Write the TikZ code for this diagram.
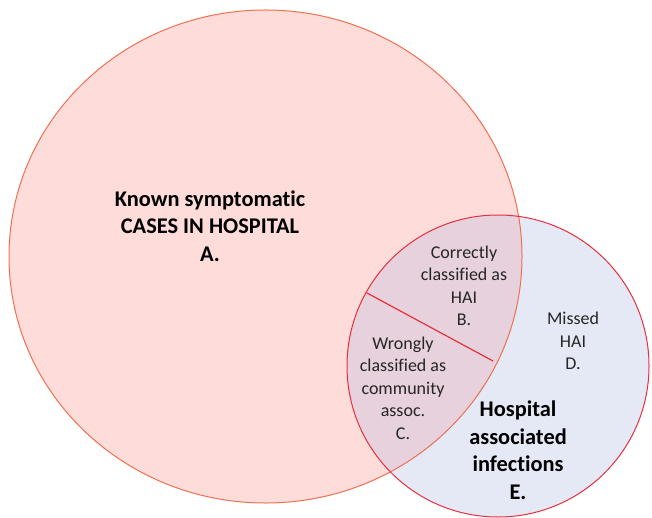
\documentclass[tikz,border=0pt]{standalone}
\usepackage{fontspec}
\setmainfont[Ligatures={NoCommon}]{Carlito}
\definecolor{bigfill}{HTML}{FDDCDA}
\definecolor{bigline}{HTML}{F0704F}
\definecolor{smallfill}{HTML}{E4E9F5}
\definecolor{smallline}{HTML}{E8303C}
\definecolor{overfill}{HTML}{E6D1DC}
\tikzset{
  boldlabel/.style={align=center, inner sep=0pt, font=\fontsize{22.4}{27.5}\selectfont\bfseries, text=black},
  plainlabel/.style={align=center, inner sep=0pt, font=\fontsize{18}{22.5}\selectfont, text=black!85},
  divider/.style={draw=smallline, line width=1.2pt}
}
\begin{document}
\begin{tikzpicture}[x=1pt,y=-1pt]
\useasboundingbox (0,0) rectangle (652,518);
% fills
\fill[bigfill] (265.5,256.5) ellipse [x radius=256.5, y radius=246.5];
\fill[smallfill] (498,366) circle [radius=151];
\begin{scope}
  \clip (265.5,256.5) ellipse [x radius=256.5, y radius=246.5];
  \fill[overfill] (498,366) circle [radius=151];
\end{scope}
% outlines
\draw[bigline, line width=1pt] (265.5,256.5) ellipse [x radius=256.5, y radius=246.5];
\draw[smallline, line width=1pt] (498,366) circle [radius=151];
% divider
\coordinate (dstart) at (367,293);
\coordinate (dend) at (493,361);
\draw[divider] (dstart) -- (dend);
% labels
\node[boldlabel] (A) at (210,226) {Known symptomatic\\CASES IN HOSPITAL\\A.};
\node[plainlabel] (B) at (464,286) {Correctly\\classified as\\HAI\\B.};
\node[plainlabel] (C) at (403,388) {Wrongly\\classified as\\community\\assoc.\\C.};
\node[plainlabel] (D) at (573,341) {Missed\\HAI\\D.};
\node[boldlabel] (E) at (518,450) {Hospital\\associated\\infections\\E.};
\end{tikzpicture}
\end{document}
